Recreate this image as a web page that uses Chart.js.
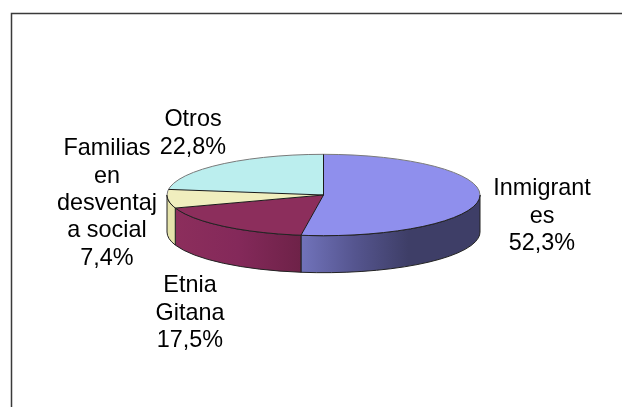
<!DOCTYPE html>
<html>
<head>
<meta charset="utf-8">
<title>Pie</title>
<style>
  html, body { margin: 0; padding: 0; background: #fff; overflow: hidden; }
  canvas { display: block; }
</style>
<script src="https://cdn.jsdelivr.net/npm/chart.js@4/dist/chart.umd.js"></script>
</head>
<body>
<canvas id="pie" width="622" height="407"></canvas>
<script>
// Data
const categories = ['Inmigrantes', 'Etnia Gitana', 'Familias en desventaja social', 'Otros'];
const shares = [52.3, 17.5, 7.4, 22.8];
const labelLines = [
    ['Inmigrant', 'es', '52,3%'],
    ['Etnia', 'Gitana', '17,5%'],
    ['Familias', 'en', 'desventaj', 'a social', '7,4%'],
    ['Otros', '22,8%']
];

// Styles
const topColors = ['#8f8fed', '#8c2e5c', '#f0eebe', '#bbeeee'];
const wallStops = [
    [[0, '#7173bb'], [0.3, '#55558f'], [0.6, '#3e3e67'], [1, '#3e3e67']],
    [[0, '#8c2e5c'], [0.5, '#84295a'], [1, '#6e2248']],
    [[0, '#e5e3ab'], [1, '#e5e3ab']],
    [[0, '#a9d6d6'], [1, '#a9d6d6']]
];
const labelAnchors = [[542, 189], [190, 286], [107, 149], [193, 120]];
const LINE_GAP = 27.3;
const TILT = 0.26;
const DEPTH = 37;
const PIE_Y = 195;

const pie3d = {
    id: 'pie3d',
    beforeDraw(chart) {
        const ctx = chart.ctx;
        ctx.save();
        ctx.strokeStyle = '#3a3a3a';
        ctx.lineWidth = 1.5;
        ctx.beginPath();
        ctx.moveTo(11.5, chart.height);
        ctx.lineTo(11.5, 13.5);
        ctx.lineTo(chart.width, 13.5);
        ctx.stroke();
        ctx.restore();
    },
    beforeDatasetsDraw(chart) {
        const ctx = chart.ctx;
        const arcs = chart.getDatasetMeta(0).data;
        const cx = arcs[0].x;
        const r = arcs[0].outerRadius;
        const ry = r * TILT;

        // side walls, front half only
        arcs.forEach((arc, i) => {
            const a0 = Math.max(arc.startAngle, 0);
            const a1 = Math.min(arc.endAngle, Math.PI);
            if (a1 <= a0) return;
            const g = ctx.createLinearGradient(cx + r * Math.cos(a1), 0, cx + r * Math.cos(a0), 0);
            wallStops[i].forEach(s => g.addColorStop(s[0], s[1]));
            ctx.save();
            ctx.beginPath();
            ctx.ellipse(cx, PIE_Y, r, ry, 0, a0, a1);
            ctx.ellipse(cx, PIE_Y + DEPTH, r, ry, 0, a1, a0, true);
            ctx.closePath();
            ctx.fillStyle = g;
            ctx.fill();
            ctx.strokeStyle = '#222';
            ctx.lineWidth = 1;
            ctx.stroke();
            ctx.restore();
        });

        // flatten the library's arcs into the top face
        ctx.save();
        ctx.translate(0, PIE_Y);
        ctx.scale(1, TILT);
        ctx.translate(0, -arcs[0].y);
    },
    afterDatasetsDraw(chart) {
        const ctx = chart.ctx;
        ctx.restore();

        const arcs = chart.getDatasetMeta(0).data;
        const cx = arcs[0].x;
        const r = arcs[0].outerRadius;
        const ry = r * TILT;

        // rim: grey at the back, dark at the front
        ctx.save();
        ctx.lineWidth = 1;
        ctx.strokeStyle = '#7a7a7a';
        ctx.beginPath();
        ctx.ellipse(cx, PIE_Y, r, ry, 0, Math.PI, 2 * Math.PI);
        ctx.stroke();
        ctx.strokeStyle = '#222';
        ctx.beginPath();
        ctx.ellipse(cx, PIE_Y, r, ry, 0, 0, Math.PI);
        ctx.stroke();

        // slice edges
        ctx.strokeStyle = '#1a1a1a';
        arcs.forEach(arc => {
            ctx.beginPath();
            ctx.moveTo(cx, PIE_Y);
            ctx.lineTo(cx + r * Math.cos(arc.startAngle), PIE_Y + ry * Math.sin(arc.startAngle));
            ctx.stroke();
        });
        ctx.restore();

        // labels
        ctx.save();
        ctx.font = '23.4px "Liberation Sans", Arial, sans-serif';
        ctx.fillStyle = '#000';
        ctx.textAlign = 'center';
        ctx.textBaseline = 'middle';
        labelLines.forEach((lines, i) => {
            lines.forEach((line, j) => {
                ctx.fillText(line, labelAnchors[i][0], labelAnchors[i][1] + j * LINE_GAP);
            });
        });
        ctx.restore();
    }
};

new Chart(document.getElementById('pie').getContext('2d'), {
    type: 'pie',
    data: {
        labels: categories,
        datasets: [{
            data: shares,
            backgroundColor: topColors,
            borderWidth: 0,
            hoverOffset: 0
        }]
    },
    options: {
        responsive: false,
        animation: false,
        devicePixelRatio: 1,
        layout: { padding: { left: 167, right: 142, top: 47, bottom: 47 } },
        plugins: { legend: { display: false }, tooltip: { enabled: false } }
    },
    plugins: [pie3d]
});
</script>
</body>
</html>
